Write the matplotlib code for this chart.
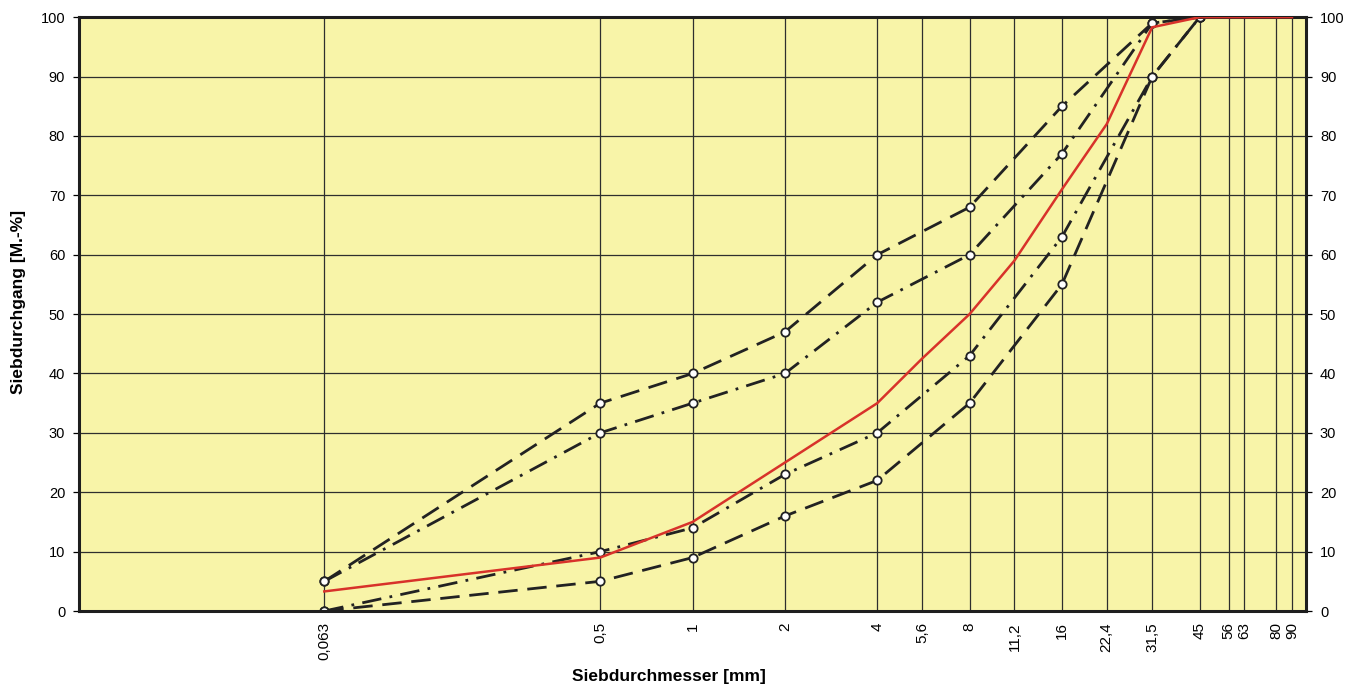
#!/usr/bin/env python3
"""Sieblinie: Siebdurchgang ueber Siebdurchmesser mit Grenzkurven."""

import matplotlib
matplotlib.use('Agg')
import matplotlib.pyplot as plt
from matplotlib.ticker import FixedLocator, NullLocator

plt.rcParams['font.family'] = ['Liberation Sans', 'DejaVu Sans']

# Sieve sizes (mm) and their tick labels
sieves = [0.063, 0.5, 1, 2, 4, 5.6, 8, 11.2, 16, 22.4, 31.5, 45, 56, 63, 80, 90]
sieve_labels = ['0,063', '0,5', '1', '2', '4', '5,6', '8', '11,2', '16', '22,4',
                '31,5', '45', '56', '63', '80', '90']

# Limit curves (measured at the marked sieves)
limit_sieves = [0.063, 0.5, 1, 2, 4, 8, 16, 31.5, 45]
upper_dashed = [5, 35, 40, 47, 60, 68, 85, 99, 100]
upper_dashdot = [5, 30, 35, 40, 52, 60, 77, 99, 100]
lower_dashdot = [0, 10, 14, 23, 30, 43, 63, 90, 100]
lower_dashed = [0, 5, 9, 16, 22, 35, 55, 90, 100]

# Actual grading curve (red)
red_sieves = [0.063, 0.5, 1, 2, 4, 5.6, 8, 11.2, 16, 22.4, 31.5, 45, 56, 63, 80, 90]
red_values = [3.3, 9, 15, 25, 35, 42.5, 50, 59, 71, 82, 98.3, 100, 100, 100, 100, 100]

y_ticks = list(range(0, 101, 10))

fig = plt.figure(figsize=(13.64, 6.87), dpi=100)
ax = fig.add_axes([0.058, 0.1106, 0.8995, 0.8644])
ax.set_facecolor('#f8f4a8')

ax.set_xscale('log')
ax.set_xlim(0.01, 100)
ax.set_ylim(0, 100)

# grid
ax.xaxis.set_major_locator(FixedLocator(sieves))
ax.xaxis.set_minor_locator(NullLocator())
ax.set_xticklabels(sieve_labels, rotation=90, fontsize=11)
ax.set_yticks(y_ticks)
ax.set_yticklabels([str(v) for v in y_ticks], fontsize=10.5)
ax.grid(True, color='#2e2e2e', linewidth=0.9)
ax.set_axisbelow(True)
ax.tick_params(axis='x', length=0, pad=8)
ax.tick_params(axis='y', length=4, width=0.9, pad=6, labelright=True, right=True)

for s in ax.spines.values():
    s.set_linewidth(2.2)
    s.set_color('#1e1e1e')

dash = (0, (7, 3.5))
dashdot = (0, (7, 3, 1, 3))
mk = dict(marker='o', markersize=6, markerfacecolor='white', markeredgecolor='#222222',
          markeredgewidth=1.3)

ax.plot(limit_sieves, upper_dashed, color='#222222', lw=2, linestyle=dash, **mk)
ax.plot(limit_sieves, upper_dashdot, color='#222222', lw=2, linestyle=dashdot, **mk)
ax.plot(limit_sieves, lower_dashdot, color='#222222', lw=2, linestyle=dashdot, **mk)
ax.plot(limit_sieves, lower_dashed, color='#222222', lw=2, linestyle=dash, **mk)
ax.plot(red_sieves, red_values, color='#d8322a', lw=1.8, zorder=3)

ax.set_xlabel('Siebdurchmesser [mm]', fontsize=12.5, fontweight='bold', labelpad=4)
ax.xaxis.set_label_coords(0.481, -0.098)
ax.set_ylabel('Siebdurchgang [M.-%]', fontsize=12.5, fontweight='bold', labelpad=8)
ax.yaxis.set_label_coords(-0.043, 0.52)

fig.savefig('out.png', dpi=100)
